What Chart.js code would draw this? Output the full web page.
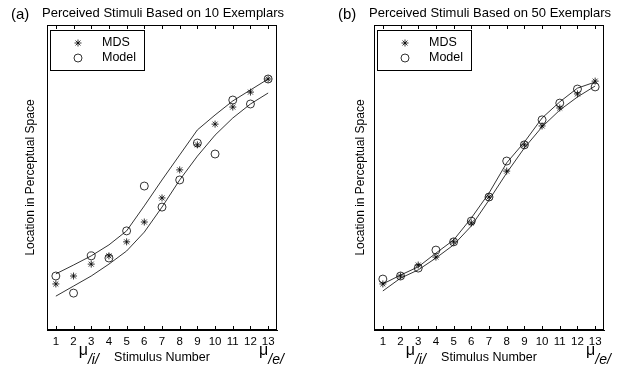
<!DOCTYPE html>
<html>
<head>
<meta charset="utf-8">
<script src="https://cdn.jsdelivr.net/npm/chart.js@4.4.1/dist/chart.umd.min.js"></script>
<style>
  html, body { margin: 0; padding: 0; background: #fff; }
  #wrap { position: relative; width: 621px; height: 367px; }
  canvas { position: absolute; top: 0; }
  #chartA { left: 0; }
  #chartB { left: 310px; }
</style>
</head>
<body>
<div id="wrap">
  <canvas id="chartA" width="310" height="367"></canvas>
  <canvas id="chartB" width="311" height="367"></canvas>
</div>
<script>
// ========== DATA ==========
const stimulus = [1, 2, 3, 4, 5, 6, 7, 8, 9, 10, 11, 12, 13];
const xTicks = [1, 2, 3, 4, 5, 6, 7, 8, 9, 10, 11, 12, 13];

// (a) 10 exemplars
const mdsA   = [1.51, 1.77, 2.16, 2.43, 2.89, 3.54, 4.33, 5.25, 6.07, 6.75, 7.31, 7.80, 8.23];
const modelA = [1.77, 1.21, 2.43, 2.36, 3.25, 4.72, 4.03, 4.92, 6.13, 5.77, 7.54, 7.41, 8.23];
const upperA = [1.84, 2.13, 2.43, 2.79, 3.25, 4.07, 4.92, 5.74, 6.56, 7.05, 7.51, 7.87, 8.23];
const lowerA = [1.11, 1.44, 1.77, 2.16, 2.59, 3.21, 4.03, 4.92, 5.70, 6.39, 6.95, 7.41, 7.77];

// (b) 50 exemplars
const mdsB   = [1.51, 1.77, 2.13, 2.39, 2.89, 3.51, 4.36, 5.21, 6.07, 6.69, 7.28, 7.74, 8.16];
const modelB = [1.67, 1.77, 2.03, 2.62, 2.89, 3.57, 4.36, 5.54, 6.07, 6.89, 7.44, 7.90, 7.97];
const upperB = [1.51, 1.80, 2.07, 2.52, 2.95, 3.67, 4.49, 5.48, 6.16, 6.95, 7.48, 7.93, 8.13];
const lowerB = [1.28, 1.70, 1.97, 2.36, 2.79, 3.41, 4.26, 5.15, 5.97, 6.66, 7.21, 7.64, 8.00];

const legendLabels = ['MDS', 'Model'];
const muMarks = [{ x: 2.55, sub: '/i/' }, { x: 12.75, sub: '/e/' }];

const FONT = "'Liberation Sans', Arial, Helvetica, sans-serif";

function pts(ys) {
  return stimulus.map((s, i) => ({ x: s, y: ys[i] }));
}

// frame, inward ticks, legend, titles, mu labels
function decorPlugin(letter, title) {
  return {
    id: 'decor',
    afterDraw(chart) {
      const { ctx, chartArea: a, scales: { x } } = chart;
      ctx.save();
      ctx.strokeStyle = '#000';
      ctx.lineWidth = 1;
      ctx.strokeRect(a.left + 0.5, a.top + 0.5, a.right - a.left - 1, a.bottom - a.top - 1);

      // ticks pointing inward, top and bottom
      ctx.beginPath();
      xTicks.forEach(v => {
        const px = Math.round(x.getPixelForValue(v)) + 0.5;
        ctx.moveTo(px, a.bottom);
        ctx.lineTo(px, a.bottom - 4);
        ctx.moveTo(px, a.top);
        ctx.lineTo(px, a.top + 4);
      });
      ctx.stroke();

      // legend
      const lx = a.left + 3.5, ly = a.top + 5.5;
      ctx.fillStyle = '#fff';
      ctx.fillRect(lx, ly, 94, 40);
      ctx.strokeRect(lx, ly, 94, 40);
      const styles = [{ pointStyle: 'star', radius: 3.5 }, { pointStyle: 'circle', radius: 4 }];
      ctx.font = '12.5px ' + FONT;
      ctx.textBaseline = 'middle';
      legendLabels.forEach((lab, i) => {
        const yy = a.top + 18 + i * 15;
        ctx.fillStyle = 'rgba(0,0,0,0)';
        ctx.strokeStyle = '#000';
        ctx.lineWidth = 0.8;
        Chart.helpers.drawPoint(ctx, { pointStyle: styles[i].pointStyle, radius: styles[i].radius, borderWidth: 0.8, rotation: 0 }, a.left + 31, yy);
        ctx.fillStyle = '#000';
        ctx.fillText(lab, a.left + 55, yy);
      });

      // panel title
      ctx.textBaseline = 'alphabetic';
      ctx.textAlign = 'left';
      ctx.fillStyle = '#000';
      ctx.font = '15px ' + FONT;
      ctx.fillText(letter, a.left - 36, 19);
      ctx.font = '13px ' + FONT;
      ctx.fillText(title, a.left - 5, 17);

      // mu markers under the axis
      muMarks.forEach(m => {
        const px = x.getPixelForValue(m.x);
        ctx.font = '16px ' + FONT;
        const w = ctx.measureText('\u03BC').width;
        ctx.fillText('\u03BC', px - w / 2, 355);
        ctx.font = 'italic 14px ' + FONT;
        ctx.fillText(m.sub, px + w / 2, 364);
      });
      ctx.restore();
    }
  };
}

function makeChart(id, mds, model, upper, lower, letter, title, yWidth, padRight, yTitlePad) {
  const lineStyle = { borderColor: '#000', borderWidth: 0.8, pointRadius: 0, showLine: true, tension: 0, fill: false };
  return new Chart(document.getElementById(id), {
    type: 'scatter',
    data: {
      datasets: [
        { label: 'upper', data: pts(upper), ...lineStyle },
        { label: 'lower', data: pts(lower), ...lineStyle },
        { label: 'MDS', data: pts(mds), pointStyle: 'star', pointRadius: 3.5, borderColor: '#000', borderWidth: 0.8, backgroundColor: 'rgba(0,0,0,0)' },
        { label: 'Model', data: pts(model), pointStyle: 'circle', pointRadius: 4, borderColor: '#000', borderWidth: 0.8, backgroundColor: 'rgba(0,0,0,0)' }
      ]
    },
    options: {
      responsive: false,
      animation: false,
      devicePixelRatio: 1,
      layout: { autoPadding: false, padding: { left: 0, right: padRight, top: 25, bottom: 0 } },
      plugins: { legend: { display: false }, tooltip: { enabled: false } },
      scales: {
        x: {
          type: 'linear',
          min: 0.5,
          max: 13.5,
          afterBuildTicks: s => { s.ticks = xTicks.map(v => ({ value: v })); },
          afterFit: s => { s.height = 37; },
          grid: { display: false },
          border: { display: true, color: '#000', width: 1 },
          ticks: { color: '#000', font: { family: FONT, size: 11.5 }, padding: -3, maxRotation: 0, autoSkip: false },
          title: { display: true, text: 'Stimulus Number', color: '#000', font: { family: FONT, size: 12.5 }, padding: { top: 0, bottom: 1.5 } }
        },
        y: {
          min: 0,
          max: 10,
          afterFit: s => { s.width = yWidth; },
          grid: { display: false },
          border: { display: true, color: '#000', width: 1 },
          ticks: { display: false },
          title: { display: true, text: 'Location in Perceptual Space', color: '#000', font: { family: FONT, size: 12 }, padding: { top: yTitlePad, bottom: 0 } }
        }
      }
    },
    plugins: [decorPlugin(letter, title)]
  });
}

makeChart('chartA', mdsA, modelA, upperA, lowerA, '(a)', 'Perceived Stimuli Based on 10 Exemplars', 47, 33, 23);
makeChart('chartB', mdsB, modelB, upperB, lowerB, '(b)', 'Perceived Stimuli Based on 50 Exemplars', 64, 17, 43);
</script>
</body>
</html>
